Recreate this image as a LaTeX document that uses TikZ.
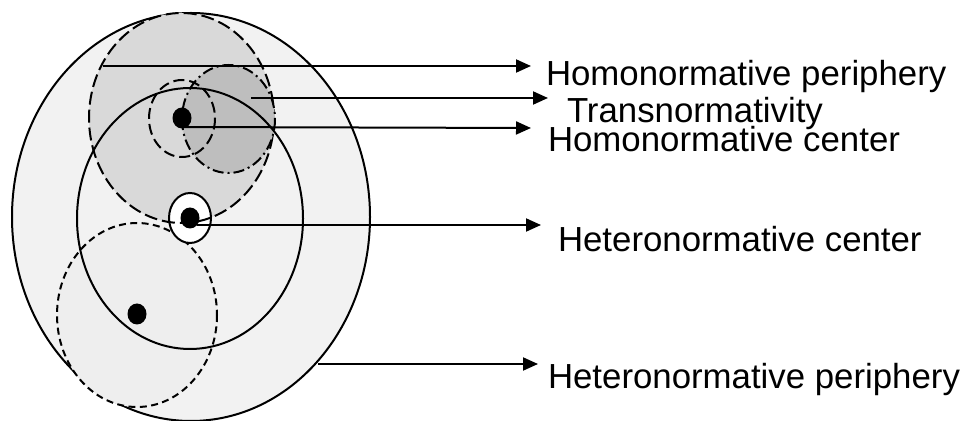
\documentclass[tikz,border=0pt]{standalone}
\usepackage{fontspec}
\setmainfont{Liberation Sans}
\usepackage{tikz}
\usetikzlibrary{arrows.meta,shapes.geometric}
\definecolor{outergray}{RGB}{242,242,242}
\definecolor{lowgray}{RGB}{238,238,238}
\definecolor{homgray}{RGB}{217,217,217}
\definecolor{transgray}{RGB}{190,190,190}
\tikzset{
  dot/.style={ellipse,fill=black,inner sep=0,minimum width=9.5pt,minimum height=10.5pt},
  lbl/.style={anchor=base west,inner sep=0,font=\fontsize{17.4}{19}\selectfont},
  pointer/.style={line width=1pt,-{Triangle[length=7.5pt,width=6.5pt]}}
}
\begin{document}
\begin{tikzpicture}[x=0.5pt,y=-0.5pt,line width=1pt]
    \useasboundingbox (0,0) rectangle (968,421);
    % regions
    \draw[fill=outergray] (191,217) ellipse [x radius=179,y radius=204];
    \draw[fill=lowgray,dash pattern=on 3.5pt off 2.2pt] (137,315) ellipse [x radius=80,y radius=92];
    \fill[homgray] (181.5,118) ellipse [x radius=92.5,y radius=105];
    \draw[fill=white] (190,218) ellipse [x radius=21,y radius=25];
    \draw[dash pattern=on 6.5pt off 2.5pt] (181.5,118) ellipse [x radius=92.5,y radius=105];
    \draw[fill=transgray,dash pattern=on 5.5pt off 2pt on 1pt off 2pt] (228.5,119) ellipse [x radius=46.5,y radius=54];
    \draw (190,218.5) ellipse [x radius=113,y radius=130.5];
    \draw[dash pattern=on 5.5pt off 2.5pt] (182,118.5) ellipse [x radius=33,y radius=38.5];
    % dots
    \node[dot] (homdot) at (182,118) {};
    \node[dot] (hetdot) at (190,218) {};
    \node[dot] (lowdot) at (137,314) {};
    % labels
    \node[lbl] (hpl) at (545,86) {Homonormative periphery};
    \node[lbl] (trl) at (566,123) {Transnormativity};
    \node[lbl] (hcl) at (547,152) {Homonormative center};
    \node[lbl] (etcl) at (557,252) {Heteronormative center};
    \node[lbl] (etpl) at (547,389) {Heteronormative periphery};
    % pointers
    \coordinate (hp-s) at (103,66);  \coordinate (hp-e) at (531,66);
    \coordinate (tr-s) at (251,98);  \coordinate (tr-e) at (548,98);
    \coordinate (hc-s) at (182,127); \coordinate (hc-e) at (531,128);
    \coordinate (ec-s) at (197,225); \coordinate (ec-e) at (541,225);
    \coordinate (ep-s) at (318,364); \coordinate (ep-e) at (538,364);
    \draw[pointer] (hp-s) -- (hp-e);
    \draw[pointer] (tr-s) -- (tr-e);
    \draw[pointer] (hc-s) -- (hc-e);
    \draw[pointer] (ec-s) -- (ec-e);
    \draw[pointer] (ep-s) -- (ep-e);
\end{tikzpicture}
\end{document}
